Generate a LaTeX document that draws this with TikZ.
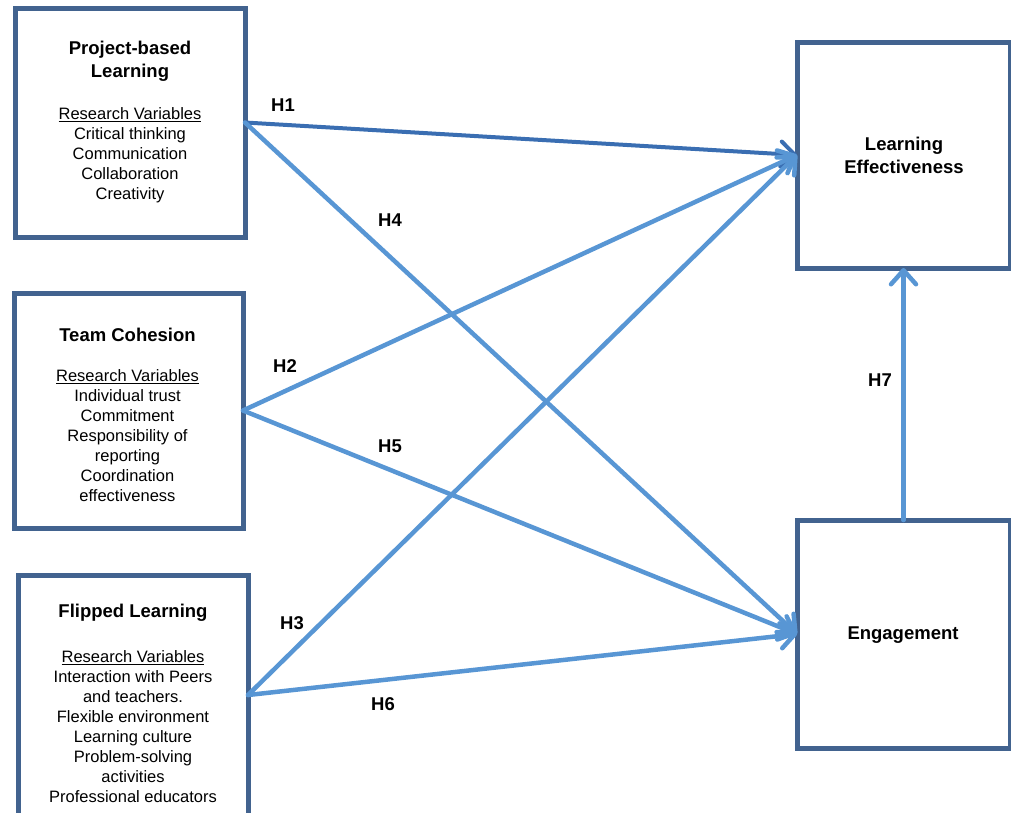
\documentclass[tikz,border=0pt]{standalone}
\usepackage{fontspec}
\setmainfont{Liberation Sans}
\usetikzlibrary{arrows.meta}
\definecolor{boxblue}{RGB}{66,99,143}
\definecolor{linkblue}{RGB}{88,150,212}
\definecolor{linkdark}{RGB}{58,110,178}
\newcommand{\bodysize}{\fontsize{16.5}{20}\selectfont}
\newcommand{\titlesize}{\fontsize{18.5}{23}\selectfont\bfseries}

\begin{document}
\begin{tikzpicture}[x=1pt,y=-1pt,
    box/.style={draw=boxblue, line width=5pt, rectangle, inner sep=0pt, outer sep=0pt},
    ttl/.style={align=center, font=\titlesize, inner sep=0pt},
    vars/.style={align=center, font=\bodysize, inner sep=0pt},
    link/.style={draw=linkblue, line width=4.5pt, line cap=round,
      -{Straight Barb[length=14pt,width=25pt,round]}},
    hyp/.style={font=\titlesize, inner sep=0pt}]
  \useasboundingbox (0,0) rectangle (1011,812);
  % independent variables
  \node [box, minimum width=230pt, minimum height=229pt] (pbl) at (130,122.5) {};
  \node [ttl] (pbl-ttl) at (130,61.5) {Project-based\\Learning};
  \node [vars] (pbl-var) at (130,155.5) {\underline{Research Variables}\\Critical thinking\\Communication\\Collaboration\\Creativity};
  \node [box, minimum width=229pt, minimum height=235pt] (tc) at (128.5,410.5) {};
  \node [ttl] (tc-ttl) at (127.5,335) {Team Cohesion};
  \node [vars] (tc-var) at (127.5,436) {\underline{Research Variables}\\Individual trust\\Commitment\\Responsibility of\\reporting\\Coordination\\effectiveness};
  \node [box, minimum width=230pt, minimum height=240pt] (fl) at (133,695) {};
  \node [ttl] (fl-ttl) at (133,613) {Flipped Learning};
  \node [vars] (fl-var) at (133,727) {\underline{Research Variables}\\Interaction with Peers\\and teachers.\\Flexible environment\\Learning culture\\Problem-solving\\activities\\Professional educators};
  % outcomes
  \node [box, minimum width=213pt, minimum height=226pt] (le) at (903.5,155) {};
  \node [ttl] (le-ttl) at (904,155) {Learning\\Effectiveness};
  \node [box, minimum width=213pt, minimum height=228pt] (eng) at (903.5,634) {};
  \node [ttl] (eng-ttl) at (903,635) {Engagement};
  % hypotheses
  \draw [link, draw=linkdark, line width=4pt] (pbl.east) -- (le.west);
  \draw [link] (pbl.east) -- (eng.west);
  \draw [link] (tc.east) -- (le.west);
  \draw [link] (tc.east) -- (eng.west);
  \draw [link] (fl.east) -- (le.west);
  \draw [link] (fl.east) -- (eng.west);
  \draw [link] (eng.north) -- (le.south);
  \node [hyp] (h1) at (283,105) {H1};
  \node [hyp] (h4) at (390,220) {H4};
  \node [hyp] (h2) at (285,366) {H2};
  \node [hyp] (h5) at (390,446) {H5};
  \node [hyp] (h3) at (292,623) {H3};
  \node [hyp] (h6) at (383,704) {H6};
  \node [hyp] (h7) at (880,380) {H7};
\end{tikzpicture}
\end{document}
